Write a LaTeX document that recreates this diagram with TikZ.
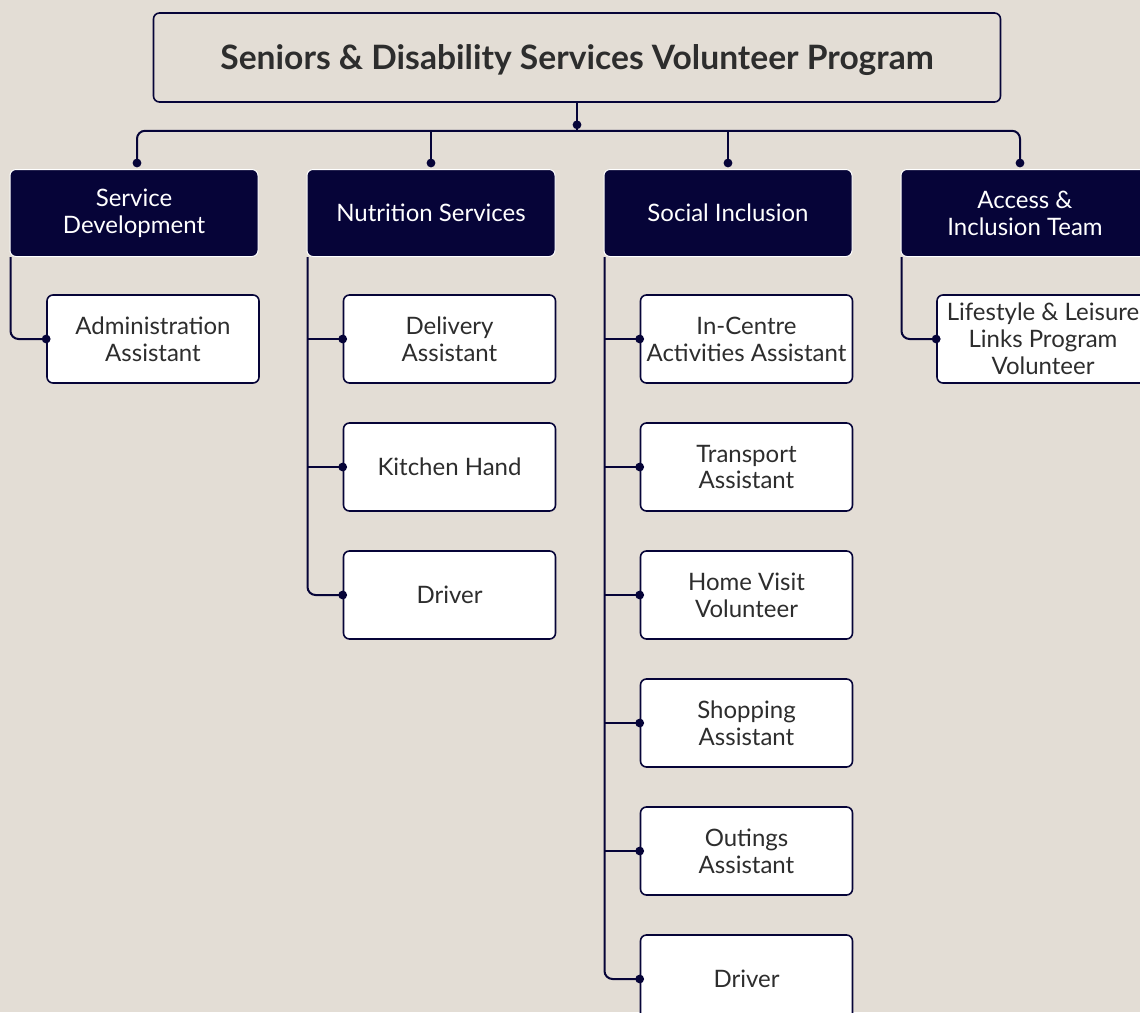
\documentclass[tikz,border=0pt]{standalone}
\usepackage{fontspec}
\setmainfont{Lato}
\usetikzlibrary{positioning}
\definecolor{navy}{RGB}{6,4,56}
\definecolor{paper}{RGB}{227,221,213}
\definecolor{ink}{RGB}{45,45,45}

\begin{document}
\begin{tikzpicture}[x=0.5pt,y=-0.5pt,
  titlebox/.style={draw=navy,line width=0.8pt,rounded corners=3pt,minimum width=423.5pt,minimum height=44.5pt,text depth=0pt,text=ink,font=\bfseries\fontsize{16.8}{20}\selectfont},
  headbox/.style={fill=navy,draw=white,line width=0.5pt,rounded corners=3pt,minimum width=124pt,minimum height=43.5pt,text=white,align=center,font=\fontsize{12}{13.5}\selectfont},
  rolebox/.style={fill=white,draw=navy,line width=0.8pt,rounded corners=3pt,minimum width=106pt,minimum height=44pt,inner xsep=1pt,inner ysep=1pt,text=ink,align=center,font=\fontsize{12}{13.4}\selectfont},
  link/.style={navy,line width=1pt,rounded corners=4pt}]
\useasboundingbox (0,0) rectangle (1140,1012);
\fill[paper] (0,0) rectangle (1140,1012);
\clip (0,0) rectangle (1140,1012);

% programme and teams
\node[titlebox] (prog) at (577,57.5) {Seniors \& Disability Services Volunteer Program};
\node[headbox] (dev) at (134,213) {Service\\Development};
\node[headbox] (nut) at (431,213) {Nutrition Services};
\node[headbox] (soc) at (728,213) {Social Inclusion};
\node[headbox] (acc) at (1025,213) {Access \&\\Inclusion Team};

% volunteer roles
\node[rolebox] (dev1) at (153,339) {Administration\\Assistant};
\foreach \t [count=\i] in {{Delivery\\Assistant},{Kitchen Hand},{Driver}}
  \node[rolebox] (nut\i) at (449.5,211+128*\i) {\t};
\foreach \t [count=\i] in {{In-Centre\\Activities Assistant},{Transport\\Assistant},{Home Visit\\Volunteer},{Shopping\\Assistant},{Outings\\Assistant},{Driver}}
  \node[rolebox] (soc\i) at (746.5,211+128*\i) {\t};
\node[rolebox] (acc1) at (1043,339) {Lifestyle \& Leisure\\Links Program\\Volunteer};

% top bar
\coordinate (devP) at ([xshift=1.5pt,yshift=3pt]dev.north);
\coordinate (nutP) at ([yshift=3pt]nut.north);
\coordinate (socP) at ([yshift=3pt]soc.north);
\coordinate (accP) at ([xshift=-2.5pt,yshift=3pt]acc.north);
\draw[link] (prog.south) -- ++(0,28) coordinate (bar);
\draw[link] (devP) |- (bar) -| (accP);
\foreach \h in {nut,soc} \draw[link] (\h P |- bar) -- (\h P);
\foreach \h in {dev,nut,soc,acc} \fill[navy] (\h P) circle (2.2pt);
\fill[navy] ([yshift=3pt]bar) circle (2.2pt);

% trunks
\foreach \h in {dev,nut,soc,acc} \coordinate (\h T) at ([xshift=0.5pt]\h.south west);
\draw[link] (devT) |- (dev1.west);
\draw[link] (accT) |- (acc1.west);
\draw[link] (nutT) |- (nut3.west);
\draw[link] (socT) |- (soc6.west);
\foreach \i in {1,2} \draw[link] (nutT |- nut\i.west) -- (nut\i.west);
\foreach \i in {1,...,5} \draw[link] (socT |- soc\i.west) -- (soc\i.west);
\foreach \c in {dev1,nut1,nut2,nut3,soc1,soc2,soc3,soc4,soc5,soc6,acc1}
  \fill[navy] (\c.west) circle (2.2pt);

\end{tikzpicture}
\end{document}
